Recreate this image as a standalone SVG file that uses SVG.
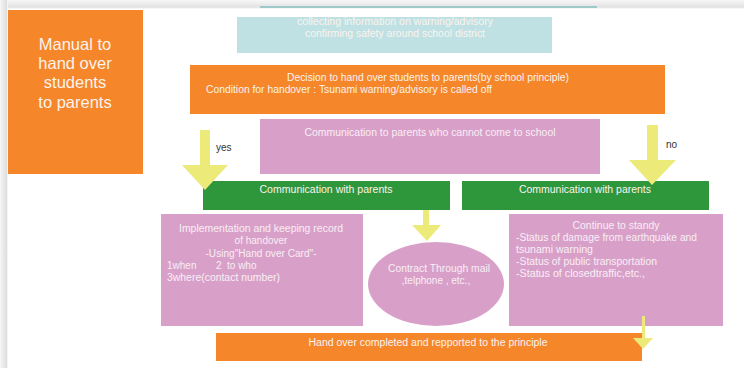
<svg xmlns="http://www.w3.org/2000/svg" width="744" height="368" viewBox="0 0 744 368">
<defs>
<linearGradient id="gTop" x1="0" y1="0" x2="0" y2="1">
<stop offset="0" stop-color="#f7f7f7"/><stop offset="0.8" stop-color="#e2e2e2"/><stop offset="1" stop-color="#ffffff"/>
</linearGradient>
<linearGradient id="gLeft" x1="0" y1="0" x2="1" y2="0">
<stop offset="0" stop-color="#f7f7f7"/><stop offset="0.8" stop-color="#dedede"/><stop offset="1" stop-color="#ffffff"/>
</linearGradient>
<style>
.t{font-family:"Liberation Sans",Arial,sans-serif;font-size:10px;fill:#fbf3ee;}
.p{fill:#f8eef6;}
.d{font-family:"Liberation Sans",Arial,sans-serif;font-size:10px;fill:#333333;}
.or{fill:#f5862a;}
.pk{fill:#d8a0c8;}
.gr{fill:#2e963b;}
.ye{fill:#eceb7a;}
</style>
</defs>
<rect width="744" height="368" fill="#ffffff"/>
<rect x="0" y="0" width="744" height="9" fill="url(#gTop)"/>
<rect x="0" y="0" width="8" height="368" fill="url(#gLeft)"/>
<rect x="260" y="6" width="337" height="2" fill="#9ec9c9"/>

<g id="title">
<rect class="or" x="8" y="10" width="135" height="164"/>
<text class="t" x="75" y="50" text-anchor="middle" style="font-size:16.5px">Manual to</text>
<text class="t" x="75" y="69" text-anchor="middle" style="font-size:16.5px">hand over</text>
<text class="t" x="75" y="88" text-anchor="middle" style="font-size:16.5px">students</text>
<text class="t" x="75" y="108" text-anchor="middle" style="font-size:16.5px">to parents</text>
</g>

<g id="collect">
<rect x="237" y="17" width="315" height="36" fill="#bfe1e3"/>
<text class="t" x="395" y="25" text-anchor="middle" textLength="196" lengthAdjust="spacingAndGlyphs">collecting information on warning/advisory</text>
<text class="t" x="395" y="37" text-anchor="middle" textLength="180" lengthAdjust="spacingAndGlyphs">confirming safety around school district</text>
</g>

<g id="decision">
<rect class="or" x="190" y="65" width="475" height="49"/>
<text class="t" x="428" y="81" text-anchor="middle" textLength="282" lengthAdjust="spacingAndGlyphs">Decision to hand over students to parents(by school principle)</text>
<text class="t" x="206" y="93" textLength="286" lengthAdjust="spacingAndGlyphs">Condition for handover : Tsunami warning/advisory is called off</text>
</g>

<g id="comm-cannot">
<rect class="pk" x="260" y="119" width="340" height="55"/>
<text class="t p" x="430" y="136" text-anchor="middle" textLength="251" lengthAdjust="spacingAndGlyphs">Communication to parents who cannot come to school</text>
</g>

<g id="comm-yes">
<rect class="gr" x="203" y="181" width="247" height="29"/>
<text class="t" x="326" y="193" text-anchor="middle" textLength="133" lengthAdjust="spacingAndGlyphs">Communication with parents</text>
</g>

<g id="comm-no">
<rect class="gr" x="462" y="181" width="247" height="29"/>
<text class="t" x="585" y="193" text-anchor="middle" textLength="132" lengthAdjust="spacingAndGlyphs">Communication with parents</text>
</g>

<g id="implementation">
<rect class="pk" x="161" y="214" width="202" height="112"/>
<text class="t p" x="261" y="232" text-anchor="middle" textLength="164" lengthAdjust="spacingAndGlyphs">Implementation and keeping record</text>
<text class="t p" x="261" y="244" text-anchor="middle">of handover</text>
<text class="t p" x="261" y="257" text-anchor="middle" textLength="111" lengthAdjust="spacingAndGlyphs">-Using"Hand over Card"-</text>
<text class="t p" x="167" y="269" xml:space="preserve">1when       2  to who</text>
<text class="t p" x="167" y="281" textLength="113" lengthAdjust="spacingAndGlyphs">3where(contact number)</text>
</g>

<g id="contract">
<ellipse class="pk" cx="436" cy="284" rx="68" ry="42"/>
<text class="t p" x="439" y="272" text-anchor="middle" textLength="102" lengthAdjust="spacingAndGlyphs">Contract Through mail</text>
<text class="t p" x="436" y="284" text-anchor="middle">,telphone , etc.,</text>
</g>

<g id="standby">
<rect class="pk" x="509" y="214" width="214" height="112"/>
<text class="t p" x="616" y="229" text-anchor="middle" textLength="87" lengthAdjust="spacingAndGlyphs">Continue to standy</text>
<text class="t p" x="516" y="241" textLength="181" lengthAdjust="spacingAndGlyphs">-Status of damage from earthquake and</text>
<text class="t p" x="516" y="253" textLength="77" lengthAdjust="spacingAndGlyphs">tsunami warning</text>
<text class="t p" x="516" y="265" textLength="141" lengthAdjust="spacingAndGlyphs">-Status of public transportation</text>
<text class="t p" x="516" y="277" textLength="129" lengthAdjust="spacingAndGlyphs">-Status of closedtraffic,etc.,</text>
</g>

<g id="completed">
<rect class="or" x="216" y="333" width="426" height="28"/>
<text class="t" x="428" y="346" text-anchor="middle" textLength="239" lengthAdjust="spacingAndGlyphs">Hand over completed and repported to the principle</text>
</g>

<g id="connectors">
<polygon class="ye" points="200,130 210,130 210,165 228,165 205,190 182,165 200,165"/>
<text class="d" x="216" y="151">yes</text>
<polygon class="ye" points="647,125 658,125 658,160 676,160 652,185 629,160 647,160"/>
<text class="d" x="666" y="148">no</text>
<polygon class="ye" points="423,210 429,210 429,225 441,225 427,241 412,225 423,225"/>
<polygon class="ye" points="642,316 645,316 645,338 653,338 643,349 633,338 642,338"/>
</g>
</svg>
